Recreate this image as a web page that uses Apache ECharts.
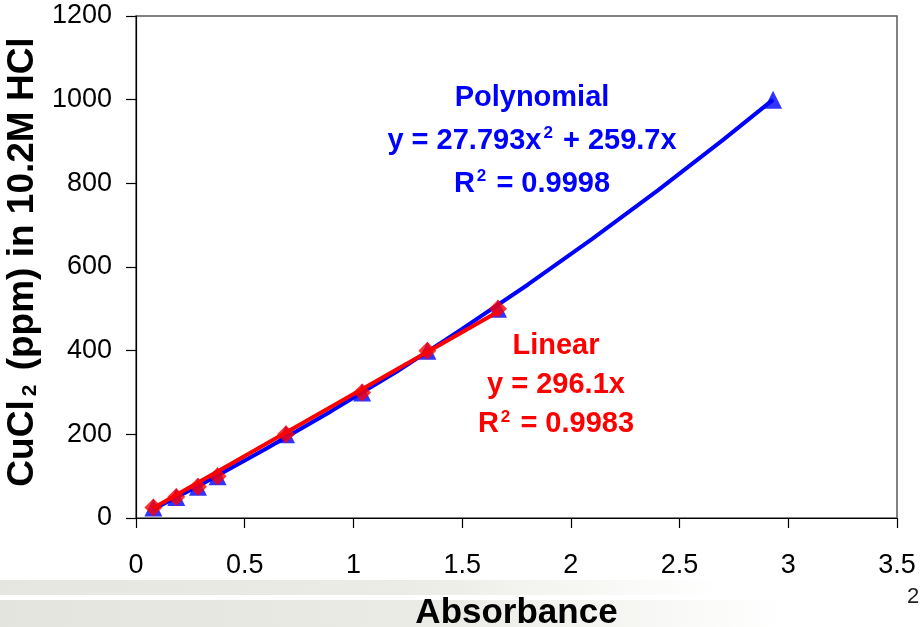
<!DOCTYPE html>
<html>
<head>
<meta charset="utf-8">
<script src="https://cdn.jsdelivr.net/npm/echarts@6/dist/echarts.min.js"></script>
<style>
html,body{margin:0;padding:0;background:#fff;}
#chart{width:922px;height:627px;}
</style>
</head>
<body>
<div id="chart"></div>
<script>
// Data
var absorbance = [0.08, 0.185, 0.285, 0.375, 0.69, 1.04, 1.34, 1.665, 2.93];
var ppm = [25, 50, 75, 100, 200, 300, 400, 500, 1000];
var linearCount = 8; // red diamonds only for the first 8 standards
var polyLineX = [0.08, 0.3, 0.6, 0.9, 1.2, 1.5, 1.8, 2.1, 2.4, 2.7, 2.93];
var polyLineY = [21, 80, 166, 256, 350, 452, 557, 668, 783, 904, 1000];
var linLineX = [0.08, 1.665];
var linLineY = [24, 493];
var xTicks = ['0', '0.5', '1', '1.5', '2', '2.5', '3', '3.5'];
var yTicks = ['0', '200', '400', '600', '800', '1000', '1200'];

function pairs(xs, ys) { return xs.map(function (x, i) { return [x, ys[i]]; }); }

var FONT = "'Liberation Sans', Arial, Helvetica, sans-serif";
var chart = echarts.init(document.getElementById('chart'), null, {renderer: 'canvas'});

var option = {
  animation: false,
  backgroundColor: '#ffffff',
  grid: {
    left: 136, top: 16, right: 25, bottom: 109,
    outerBoundsMode: 'none', containLabel: false,
    show: true, borderColor: '#5a5a5a', borderWidth: 1.5, backgroundColor: 'transparent'
  },
  xAxis: {
    type: 'value', min: 0, max: 3.5, interval: 0.5,
    axisLine: {show: true, lineStyle: {color: '#000', width: 1.2}},
    axisTick: {show: true, length: 10, inside: false, lineStyle: {color: '#000', width: 1.2}},
    splitLine: {show: false},
    axisLabel: {
      margin: 34, color: '#000', fontSize: 27, fontFamily: FONT,
      formatter: function (v) { return xTicks[Math.round(v / 0.5)]; }
    },
    name: 'Absorbance', nameLocation: 'middle', nameGap: 78,
    nameTextStyle: {fontSize: 35, fontWeight: 'bold', color: '#000', fontFamily: FONT}
  },
  yAxis: {
    type: 'value', min: 0, max: 1200, interval: 200,
    axisLine: {show: true, lineStyle: {color: '#000', width: 1.2}},
    axisTick: {show: true, length: 10, inside: false, lineStyle: {color: '#000', width: 1.2}},
    splitLine: {show: false},
    axisLabel: {
      margin: 24, color: '#000', fontSize: 27, fontFamily: FONT,
      formatter: function (v) { return yTicks[Math.round(v / 200)]; }
    },
    name: '{b|CuCl}{s|2}{b| (ppm) in 10.2M HCl}', nameLocation: 'middle', nameGap: 88,
    nameTextStyle: {
      color: '#000', fontFamily: FONT, padding: [0, 0, 0, 10],
      rich: {
        b: {fontSize: 37, fontWeight: 'bold', fontFamily: FONT, color: '#000', verticalAlign: 'bottom', lineHeight: 42},
        s: {fontSize: 21, fontWeight: 'bold', fontFamily: FONT, color: '#000', verticalAlign: 'bottom', lineHeight: 42, padding: [0, 4, 0, 4]}
      }
    }
  },
  series: [
    {
      name: 'poly pts', type: 'scatter', symbol: 'triangle', symbolSize: 18,
      itemStyle: {color: '#0000ff'}, z: 2,
      data: pairs(absorbance, ppm)
    },
    {
      name: 'Polynomial', type: 'line', showSymbol: false, symbol: 'none', smooth: false,
      lineStyle: {color: '#0000ff', width: 4}, z: 3,
      data: pairs(polyLineX, polyLineY)
    },
    {
      name: 'Linear', type: 'line', showSymbol: false, symbol: 'none',
      lineStyle: {color: '#ff0000', width: 4}, z: 4,
      data: pairs(linLineX, linLineY)
    },
    {
      name: 'lin pts', type: 'scatter', symbol: 'diamond', symbolSize: 18,
      itemStyle: {color: '#ff0000'}, z: 5,
      data: pairs(absorbance.slice(0, linearCount), ppm.slice(0, linearCount))
    }
  ],
  graphic: [
    {
      type: 'rect', z: -10, silent: true,
      shape: {x: 0, y: 580, width: 922, height: 15},
      style: {fill: new echarts.graphic.LinearGradient(0, 0, 1, 0, [
        {offset: 0, color: '#e6e6e0'}, {offset: 0.45, color: '#ececE6'}, {offset: 0.78, color: '#ffffff'}, {offset: 1, color: '#ffffff'}
      ])}
    },
    {
      type: 'rect', z: -10, silent: true,
      shape: {x: 0, y: 600, width: 922, height: 27},
      style: {fill: new echarts.graphic.LinearGradient(0, 0, 1, 0, [
        {offset: 0, color: '#e4e4de'}, {offset: 0.5, color: '#ececE7'}, {offset: 0.85, color: '#ffffff'}, {offset: 1, color: '#ffffff'}
      ])}
    },
    {
      type: 'text', z: 10, x: 907, y: 586,
      style: {text: '2', fontSize: 22, fontFamily: FONT, fill: '#222'}
    },
    {
      type: 'text', z: 10, x: 532, y: 76,
      style: {
        text: '{t|Polynomial}\n{t|y = 27.793x}{p|2}{t| + 259.7x}\n{t|R}{p|2}{t| = 0.9998}',
        align: 'center', fill: '#0000ff', fontFamily: FONT,
        rich: {
          t: {fontSize: 29, fontWeight: 'bold', fill: '#0000ff', color: '#0000ff', fontFamily: FONT, lineHeight: 43, verticalAlign: 'middle'},
          p: {fontSize: 17, fontWeight: 'bold', fill: '#0000ff', color: '#0000ff', fontFamily: FONT, lineHeight: 43, verticalAlign: 'top', padding: [6, 2, 0, 2]}
        }
      }
    },
    {
      type: 'text', z: 10, x: 556, y: 326,
      style: {
        text: '{t|Linear}\n{t|y = 296.1x}\n{t|R}{p|2}{t| = 0.9983}',
        align: 'center', fill: '#ff0000', fontFamily: FONT,
        rich: {
          t: {fontSize: 29, fontWeight: 'bold', fill: '#ff0000', color: '#ff0000', fontFamily: FONT, lineHeight: 39, verticalAlign: 'middle'},
          p: {fontSize: 17, fontWeight: 'bold', fill: '#ff0000', color: '#ff0000', fontFamily: FONT, lineHeight: 39, verticalAlign: 'top', padding: [5, 2, 0, 2]}
        }
      }
    }
  ]
};
chart.setOption(option);
</script>
</body>
</html>
